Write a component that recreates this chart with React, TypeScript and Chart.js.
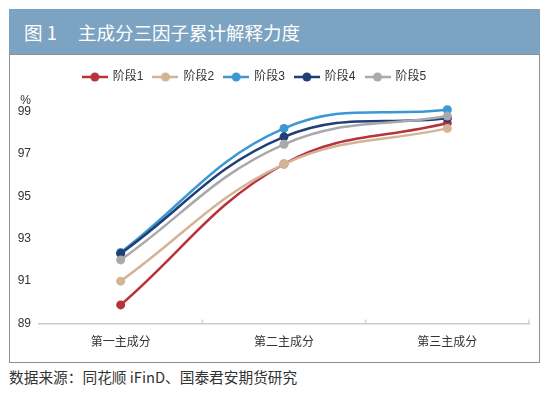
import React, { useEffect, useRef } from "react";
import { Chart, registerables } from "chart.js";

Chart.register(...registerables);

const categories = ["第一主成分", "第二主成分", "第三主成分"];
const seriesNames = ["阶段1", "阶段2", "阶段3", "阶段4", "阶段5"];
const stage1 = [89.88, 96.52, 98.45];
const stage2 = [91.0, 96.52, 98.2];
const stage3 = [92.35, 98.2, 99.08];
const stage4 = [92.3, 97.8, 98.68];
const stage5 = [92.0, 97.45, 98.78];
const yTicks = [89, 91, 93, 95, 97, 99];
const seriesColors = ["#b7323b", "#d4b497", "#3b98d3", "#1f3f75", "#a9a9ad"];

const FONT = "'Liberation Sans', 'Noto Sans CJK SC', sans-serif";

function makeIcon(color: string): HTMLCanvasElement {
  const c = document.createElement("canvas");
  c.width = 26;
  c.height = 12;
  const g = c.getContext("2d")!;
  g.strokeStyle = color;
  g.lineWidth = 2.5;
  g.beginPath();
  g.moveTo(0, 6);
  g.lineTo(26, 6);
  g.stroke();
  g.fillStyle = color;
  g.beginPath();
  g.arc(13, 6, 4.5, 0, Math.PI * 2);
  g.fill();
  return c;
}

export default function App() {
  const ref = useRef<HTMLCanvasElement>(null);

  useEffect(() => {
    if (!ref.current) return;
    const values = [stage1, stage2, stage3, stage4, stage5];
    const icons = seriesColors.map(makeIcon);
    const datasets = seriesNames.map((name, i) => ({
      label: name,
      data: values[i],
      borderColor: seriesColors[i],
      backgroundColor: seriesColors[i],
      pointBackgroundColor: seriesColors[i],
      pointBorderColor: seriesColors[i],
      borderWidth: 2.5,
      pointRadius: 4.5,
      pointBorderWidth: 0,
      tension: 0.4,
      clip: false as any,
      order: seriesNames.length - i,
    }));

    const shiftLegend = {
      id: "shiftLegend",
      afterLayout(chart: any) {
        if (chart.legend) {
          chart.legend.left -= 37;
        }
      },
    };

    const xTicks = {
      id: "xTicks",
      afterDraw(chart: any) {
        const x = chart.scales.x;
        const ctx = chart.ctx;
        ctx.save();
        ctx.strokeStyle = "#cbcbcb";
        ctx.lineWidth = 1.2;
        for (let i = 0; i < categories.length; i++) {
          const px = x.getPixelForValue(i + 0.5);
          ctx.beginPath();
          ctx.moveTo(px, x.top);
          ctx.lineTo(px, x.top - 4);
          ctx.stroke();
        }
        ctx.restore();
      },
    };

    const chart = new Chart(ref.current, {
      type: "line",
      data: { labels: categories, datasets },
      options: {
        animation: false,
        responsive: false,
        layout: { padding: { left: 17, right: 21, top: 61, bottom: 36 } },
        plugins: {
          tooltip: { enabled: false },
          legend: {
            position: "top",
            labels: {
              usePointStyle: true,
              pointStyleWidth: 24,
              padding: 10,
              color: "#333",
              font: { family: FONT, size: 12 },
              generateLabels: (c: any) =>
                c.data.datasets.map((ds: any, i: number) => ({
                  text: ds.label,
                  pointStyle: icons[i],
                  fillStyle: seriesColors[i],
                  strokeStyle: seriesColors[i],
                  lineWidth: 0,
                  hidden: false,
                  datasetIndex: i,
                  fontColor: "#333",
                })),
            },
          },
          title: {
            display: true,
            text: " %",
            align: "start",
            position: "top",
            weight: 500,
            color: "#333",
            font: { family: FONT, size: 12, weight: "normal" },
            padding: { top: 0, bottom: 4 },
          } as any,
        },
        scales: {
          x: {
            offset: true,
            grid: { display: false, drawTicks: false },
            border: { display: true, color: "#cbcbcb", width: 1.5 },
            ticks: { color: "#333", padding: 12, font: { family: FONT, size: 12 } },
          },
          y: {
            min: 89,
            max: 99,
            grid: { display: false, drawTicks: false },
            border: { display: false },
            afterBuildTicks: (scale: any) => {
              scale.ticks = yTicks.map((v) => ({ value: v }));
            },
            afterFit: (scale: any) => {
              scale.width = 22;
            },
            ticks: { color: "#333", padding: 8, font: { family: FONT, size: 12 } },
          },
        },
      },
      plugins: [shiftLegend, xTicks],
    });
    return () => chart.destroy();
  }, []);

  return (
    <div
      style={{
        position: "fixed",
        left: 0,
        top: 0,
        width: 550,
        height: 398,
        background: "#fff",
        overflow: "hidden",
      }}
    >
      <div
        style={{
          position: "absolute",
          left: 9,
          top: 9,
          width: 531,
          height: 45,
          background: "#7ca3c1",
        }}
      />
      <div
        style={{
          position: "absolute",
          left: 9,
          top: 54,
          width: 531,
          height: 309,
          border: "1.5px solid #8f8f8f",
          boxSizing: "border-box",
        }}
      />
      <span
        style={{
          position: "absolute",
          left: 24,
          top: 20,
          color: "#fff",
          fontFamily: "'Noto Sans CJK SC', sans-serif",
          fontSize: 18.5,
          lineHeight: "24px",
          whiteSpace: "pre",
        }}
      >
        图 1
      </span>
      <span
        style={{
          position: "absolute",
          left: 78,
          top: 20,
          color: "#fff",
          fontFamily: "'Noto Sans CJK SC', sans-serif",
          fontSize: 18.5,
          lineHeight: "24px",
          whiteSpace: "pre",
        }}
      >
        主成分三因子累计解释力度
      </span>
      <span
        style={{
          position: "absolute",
          left: 9,
          top: 367,
          color: "#333",
          fontFamily: "'Noto Sans CJK SC', sans-serif",
          fontSize: 14.7,
          lineHeight: "20px",
          whiteSpace: "pre",
        }}
      >
        数据来源：同花顺 iFinD、国泰君安期货研究
      </span>
      <canvas
        ref={ref}
        width={550}
        height={398}
        style={{ position: "absolute", left: 0, top: 0, width: 550, height: 398 }}
      />
    </div>
  );
}
